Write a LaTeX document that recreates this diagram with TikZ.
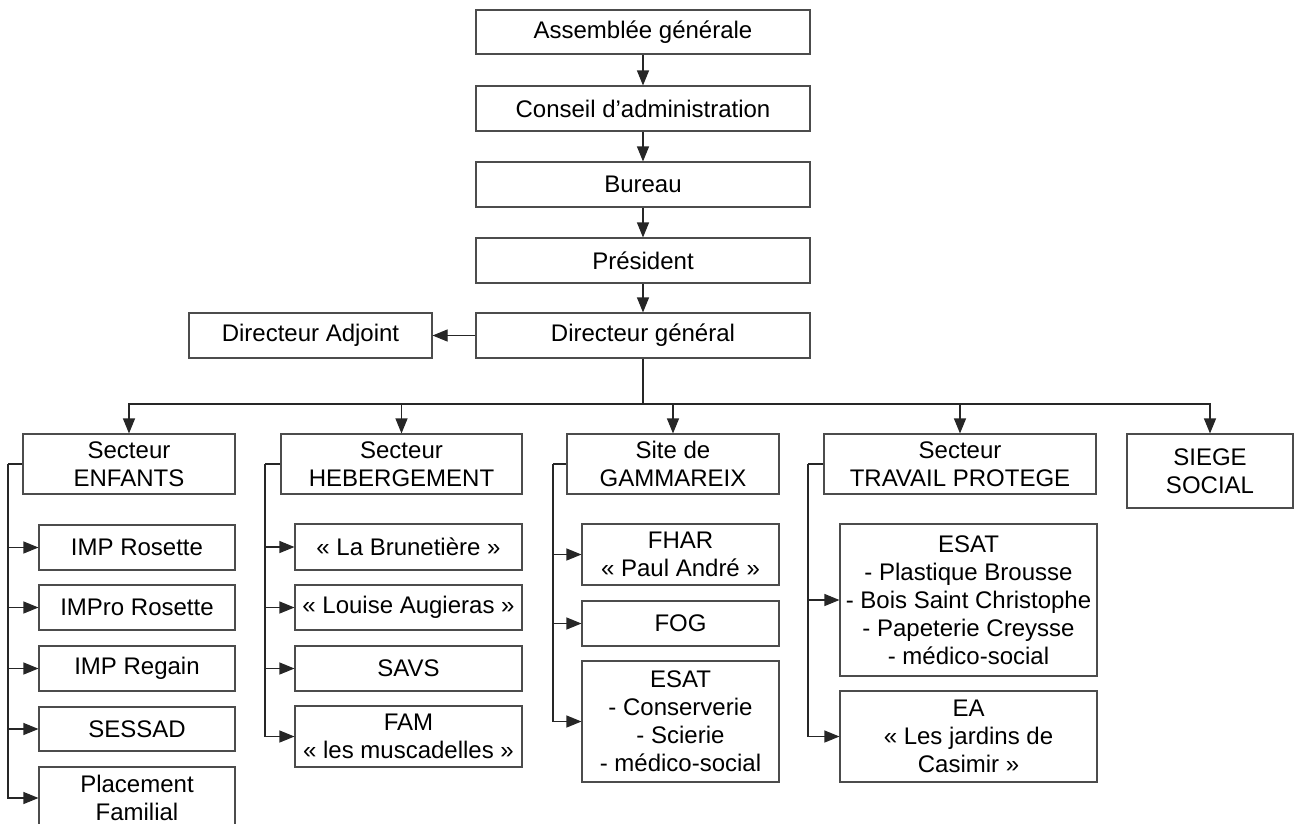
\documentclass[tikz,border=0pt]{standalone}
\usepackage{fontspec}
\setmainfont{Liberation Sans}
\usetikzlibrary{arrows.meta}
\begin{document}
\begin{tikzpicture}[x=1pt,y=-1pt,
  box/.style={draw=black!70, line width=1.1pt, inner sep=0pt, align=center,
    font=\fontsize{24}{28}\selectfont},
  conn/.style={draw=black!85, line width=1.1pt},
  arr/.style={conn, -{Triangle[length=15pt,width=12pt]}}]
\useasboundingbox (0,0) rectangle (1296,823);
\begin{scope}
\clip (0,0) rectangle (1296,823);
% top chain
\node[box, minimum width=334pt, minimum height=44pt] (AG) at (643,32) {Assemblée générale};
\node[box, minimum width=334pt, minimum height=45pt] (CA) at (643,108.5) {Conseil d’administration};
\node[box, minimum width=334pt, minimum height=45pt] (BU) at (643,184.5) {Bureau};
\node[box, minimum width=334pt, minimum height=45pt] (PR) at (643,260.5) {Président};
\node[box, minimum width=334pt, minimum height=45pt] (DG) at (643,335.5) {Directeur général};
\node[box, minimum width=243pt, minimum height=45pt] (DA) at (310.5,335.5) {Directeur Adjoint};
% sectors
\node[box, minimum width=212pt, minimum height=60pt] (ENF) at (129,464) {Secteur\\ENFANTS};
\node[box, minimum width=241pt, minimum height=60pt] (HEB) at (401.5,464) {Secteur\\HEBERGEMENT};
\node[box, minimum width=212pt, minimum height=60pt] (GAM) at (673,464) {Site de\\GAMMAREIX};
\node[box, minimum width=272pt, minimum height=60pt] (TRA) at (960,464) {Secteur\\TRAVAIL PROTEGE};
\node[box, minimum width=166pt, minimum height=74pt] (SIE) at (1210,471) {SIEGE\\SOCIAL};
% ENFANTS children
\node[box, minimum width=196pt, minimum height=45pt] (IR) at (137,547.5) {IMP Rosette};
\node[box, minimum width=196pt, minimum height=45pt] (IPR) at (137,607.5) {IMPro Rosette};
\node[box, minimum width=196pt, minimum height=45pt] (IRG) at (137,668.5) {IMP Regain};
\node[box, minimum width=196pt, minimum height=44pt] (SES) at (137,729) {SESSAD};
\node[box, minimum width=196pt, minimum height=62pt] (PF) at (137,798) {Placement\\Familial};
% HEBERGEMENT children
\node[box, minimum width=227pt, minimum height=46pt] (LB) at (408.5,547) {« La Brunetière »};
\node[box, minimum width=227pt, minimum height=45pt] (LA) at (408.5,607.5) {« Louise Augieras »};
\node[box, minimum width=227pt, minimum height=45pt] (SAVS) at (408.5,668.5) {SAVS};
\node[box, minimum width=227pt, minimum height=61pt] (FAM) at (408.5,736.5) {FAM\\« les muscadelles »};
% GAMMAREIX children
\node[box, minimum width=197pt, minimum height=61pt] (FHAR) at (680.5,554.5) {FHAR\\« Paul André »};
\node[box, minimum width=197pt, minimum height=45pt] (FOG) at (680.5,623.5) {FOG};
\node[box, minimum width=197pt, minimum height=121pt] (ESG) at (680.5,721.5) {ESAT\\- Conserverie\\- Scierie\\- médico-social};
% TRAVAIL children
\node[box, minimum width=257pt, minimum height=152pt] (EST) at (968.5,600) {ESAT\\- Plastique Brousse\\- Bois Saint Christophe\\- Papeterie Creysse\\- médico-social};
\node[box, minimum width=257pt, minimum height=91pt] (EA) at (968.5,736.5) {EA\\« Les jardins de\\Casimir »};
% top connectors
\draw[arr] (AG) -- (CA);
\draw[arr] (CA) -- (BU);
\draw[arr] (BU) -- (PR);
\draw[arr] (PR) -- (DG);
\draw[arr] (DG.west) -- (DA.east);
% bus
\coordinate (bus) at (643,404);
\draw[conn] (DG.south) -- (bus);
\draw[arr] (bus) -| (ENF.north);
\draw[arr] (bus) -| (HEB.north);
\draw[arr] (bus) -| (GAM.north);
\draw[arr] (bus) -| (TRA.north);
\draw[arr] (bus) -| (SIE.north);
% side buses
\coordinate (eb) at (8,464);
\coordinate (hb) at (265,464);
\coordinate (gb) at (553,464);
\coordinate (tb) at (808,464);
\draw[conn] (ENF.west) -- (eb);
\draw[conn] (HEB.west) -- (hb);
\draw[conn] (GAM.west) -- (gb);
\draw[conn] (TRA.west) -- (tb);
\foreach \c in {IR,IPR,IRG,SES,PF} \draw[arr] (eb) |- (\c.west);
\foreach \c in {LB,LA,SAVS,FAM} \draw[arr] (hb) |- (\c.west);
\foreach \c in {FHAR,FOG,ESG} \draw[arr] (gb) |- (\c.west);
\foreach \c in {EST,EA} \draw[arr] (tb) |- (\c.west);
\end{scope}
\end{tikzpicture}
\end{document}
